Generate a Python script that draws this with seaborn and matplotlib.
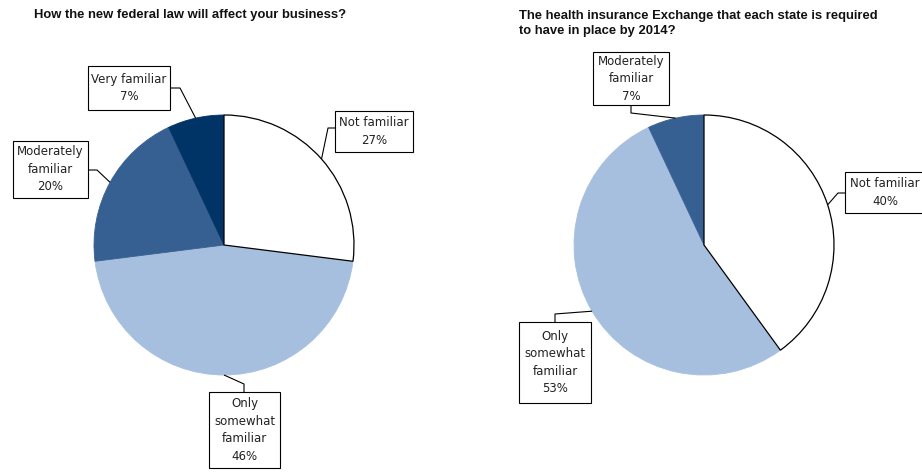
import numpy as np
import matplotlib
matplotlib.use("Agg")
import matplotlib.pyplot as plt
from matplotlib.patches import Rectangle
import seaborn as sns

# Survey answers: familiarity with each topic (percent of respondents)
left_title = "How the new federal law will affect your business?"
left_labels = ["Not familiar", "Only\nsomewhat\nfamiliar", "Moderately\nfamiliar", "Very familiar"]
left_values = [27, 46, 20, 7]

right_title = "The health insurance Exchange that each state is required\nto have in place by 2014?"
right_labels = ["Not familiar", "Only\nsomewhat\nfamiliar", "Moderately\nfamiliar"]
right_values = [40, 53, 7]

palette = {
    "Not familiar": "#FFFFFF",
    "Only\nsomewhat\nfamiliar": "#A7BFDE",
    "Moderately\nfamiliar": "#376092",
    "Very familiar": "#003366",
}

sns.set_theme(style="white")
plt.rcParams["font.family"] = ["DejaVu Sans"]

W, H = 922, 472
fig = plt.figure(figsize=(W / 100, H / 100), dpi=100)
ax = fig.add_axes([0, 0, 1, 1])

R = 130  # pie radius in pixels


def draw_pie(center, labels, values, boxes):
    cx, cy = center
    colors = [palette[l] for l in labels]
    wedges, _ = ax.pie(values, colors=colors, startangle=90, counterclock=False,
                       center=(cx, H - cy), radius=R, frame=True,
                       wedgeprops=dict(linewidth=0.6))
    for w, c in zip(wedges, colors):
        if c == "#FFFFFF":
            w.set_edgecolor("black")
            w.set_linewidth(0.9)
            w.set_zorder(3)
        else:
            w.set_edgecolor(c)
    for w, lab, val, box in zip(wedges, labels, values, boxes):
        mid = np.deg2rad((w.theta1 + w.theta2) / 2)
        px, py = cx + R * np.cos(mid), cy - R * np.sin(mid)
        x0, y0, x1, y1, (ax_, ay_), (bx, by) = box
        ax.add_patch(Rectangle((x0, H - y1), x1 - x0, y1 - y0, facecolor="white",
                               edgecolor="black", linewidth=0.8, zorder=5))
        ax.text((x0 + x1) / 2, H - (y0 + y1) / 2, f"{lab}\n{val}%", ha="center",
                va="center", fontsize=8.5, linespacing=1.45, color="#222222", zorder=6)
        ax.plot([ax_, bx, px], [H - ay_, H - by, H - py], color="black",
                linewidth=0.8, zorder=4, solid_capstyle="butt")


# box extents (x0, y0, x1, y1) with leader anchor and elbow, in pixels from the top-left
left_boxes = [
    (335, 111, 413, 152, (335, 128), (328, 128)),
    (209, 392, 280, 468, (244, 392), (244, 384)),
    (13, 141, 88, 198, (88, 170), (97, 170)),
    (88, 66, 170, 110, (170, 88), (180, 88)),
]
right_boxes = [
    (845, 172, 925, 213, (845, 193), (838, 193)),
    (519, 322, 591, 403, (555, 322), (555, 314)),
    (593, 52, 669, 105, (631, 105), (631, 113)),
]

draw_pie((224, 245), left_labels, left_values, left_boxes)
draw_pie((704, 245), right_labels, right_values, right_boxes)

ax.set_xlim(0, W)
ax.set_ylim(0, H)
ax.set_aspect("equal")
ax.axis("off")

fig.text(34 / W, 1 - 15 / H, left_title, ha="left", va="center", fontsize=9.4,
         fontweight="bold", family=["Liberation Sans", "DejaVu Sans"], color="#111111")
fig.text(519 / W, 1 - 23.5 / H, right_title, ha="left", va="center", fontsize=9.4,
         fontweight="bold", family=["Liberation Sans", "DejaVu Sans"], color="#111111",
         linespacing=1.25)

fig.savefig("out.png", dpi=100)
